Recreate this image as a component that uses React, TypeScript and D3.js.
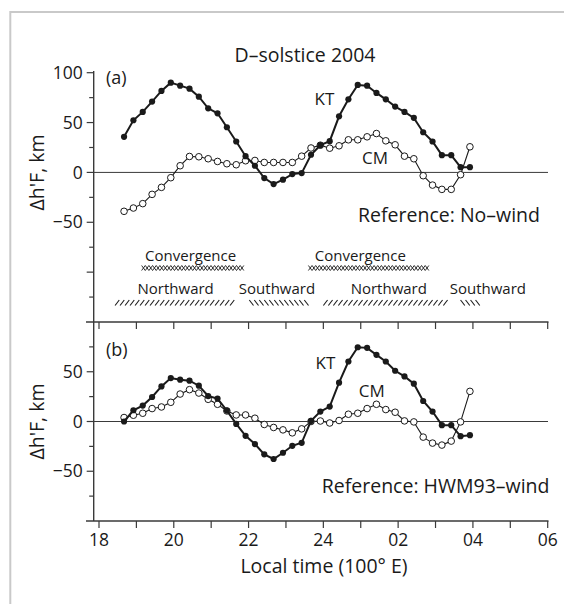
import React from "react";
import * as d3 from "d3";

// ---------- data ----------
const times = [
  18.67, 18.92, 19.17, 19.42, 19.67, 19.92, 20.17, 20.42, 20.67, 20.92,
  21.17, 21.42, 21.67, 21.92, 22.17, 22.42, 22.67, 22.92, 23.17, 23.42,
  23.67, 23.92, 24.17, 24.42, 24.67, 24.92, 25.17, 25.42, 25.67, 25.92,
  26.17, 26.42, 26.67, 26.92, 27.17, 27.42, 27.67, 27.92,
];

const ktNoWind = [
  35.7, 52.3, 60.7, 71, 81.7, 90, 87, 84, 76, 64.3,
  59.3, 45.3, 31, 16.3, 6.7, -5.7, -11.7, -7.3, -1.7, -0.7,
  17.7, 27.3, 31.3, 56.3, 73.3, 87.7, 87, 79.7, 73.3, 66,
  60.7, 54.7, 40.3, 31, 17.3, 17.3, 5.3, 5.3,
];
const cmNoWind = [
  -39, -35.7, -31.3, -22, -15, -5.3, 6.7, 16, 15.7, 13.7,
  11, 8.7, 7.7, 11.7, 12, 10, 10, 10, 10, 16.3,
  24.5, 27.3, 24.3, 26.7, 32.7, 32.7, 35.7, 39, 31.7, 27.7,
  16.3, 13.7, -3.3, -12.7, -17, -17, -2.3, 25.7,
];
const ktHwm = [
  0, 11.3, 16, 24.6, 35.3, 43.6, 42, 41, 36, 25.6,
  23, 11, -2.4, -14.4, -22.7, -33, -37.7, -31.4, -24.4, -21.4,
  0.6, 10, 15, 39, 60.3, 74.6, 74, 67, 60.3, 51,
  45.3, 38, 20.6, 10, -3.7, -3.7, -14.7, -13.7,
];
const cmHwm = [
  4, 6.3, 8.3, 13, 14.6, 19.3, 27.6, 32, 28.6, 22.3,
  17.3, 10.6, 6.6, 6.6, 3.3, -3, -6, -8.4, -11.4, -7.4,
  0, 0.5, -1.5, 1, 7.3, 8.3, 13, 17.3, 12, 9.3,
  0.6, -0.4, -15.7, -21.7, -23.7, -19.7, -0.4, 30.3,
];

const xTickValues = [18, 20, 22, 24, 26, 28, 30];
const xTickLabels = ["18", "20", "22", "24", "02", "04", "06"];
const xMinorTicks = [19, 21, 23, 25, 27, 29];

const yTicksA = [100, 50, 0, -50];
const yTicksB = [50, 0, -50];

const convergenceBands = [[19.14, 21.88], [23.6, 26.87]];
const northwardBands = [[18.43, 21.64], [24.0, 27.34]];
const southwardBands = [[22.02, 23.65], [27.67, 28.19]];
const convergenceLabelAt = [20.45, 24.99];
const northwardLabelAt = [20.05, 25.75];
const southwardLabelAt = [22.76, 28.4];

// ---------- layout ----------
const W = 564;
const H = 604;
const FONT = "'Open Sans', 'Noto Sans', sans-serif";
const AX = "#3a3a3a";
const INK = "#1a1a1a";
const BIG = 19.5;

const x = d3.scaleLinear().domain([18, 30]).range([99, 547.7]);
const yA = d3.scaleLinear().domain([-150, 100]).range([322, 72.7]);
const yB = d3.scaleLinear().domain([-100, 100]).range([521, 322]);
const axisX = 93.7;

function Series({ vals, y, filled }: { vals: number[]; y: any; filled: boolean }) {
  const line = d3
    .line<number>()
    .x((_, i) => x(times[i]))
    .y((v) => y(v));
  return (
    <g>
      <path d={line(vals) || ""} fill="none" stroke={INK} strokeWidth={filled ? 2 : 1.1} />
      {vals.map((v, i) =>
        filled ? (
          <circle key={i} cx={x(times[i])} cy={y(v)} r={3.1} fill={INK} />
        ) : (
          <circle key={i} cx={x(times[i])} cy={y(v)} r={3.3} fill="#fff" stroke={INK} strokeWidth={1} />
        )
      )}
    </g>
  );
}

function YAxis({ y, lo, hi, labels }: { y: any; lo: number; hi: number; labels: number[] }) {
  const ticks = d3.range(lo, hi + 0.1, 25);
  return (
    <g>
      {ticks.map((t) => {
        const major = t % 50 === 0;
        return (
          <line key={t} x1={axisX - (major ? 7 : 4.5)} x2={axisX} y1={y(t)} y2={y(t)} stroke={AX} strokeWidth={1.2} />
        );
      })}
      {labels.map((t) => (
        <text key={t} x={axisX - 11} y={y(t)} dy="0.35em" textAnchor="end" fontSize={17.5} fill={INK}>
          {t < 0 ? "\u2212" + Math.abs(t) : String(t)}
        </text>
      ))}
    </g>
  );
}

function Hatch({ band, dir, y0, y1 }: { band: number[]; dir: number; y0: number; y1: number }) {
  const p0 = x(band[0]);
  const p1 = x(band[1]);
  const starts = d3.range(p0, p1 - 3.5, 5);
  return (
    <g stroke={INK} strokeWidth={1.1}>
      {starts.map((p, i) =>
        dir > 0 ? (
          <line key={i} x1={p} y1={y1} x2={p + 4.2} y2={y0} />
        ) : (
          <line key={i} x1={p} y1={y0} x2={p + 4.2} y2={y1} />
        )
      )}
    </g>
  );
}

function Cross({ band, y0, y1 }: { band: number[]; y0: number; y1: number }) {
  const p0 = x(band[0]);
  const p1 = x(band[1]);
  const half = 3.65;
  const n = Math.floor((p1 - p0) / half);
  const a: [number, number][] = [];
  const b: [number, number][] = [];
  for (let k = 0; k <= n; k++) {
    const px = p0 + k * half;
    a.push([px, k % 2 === 0 ? y0 : y1]);
    b.push([px, k % 2 === 0 ? y1 : y0]);
  }
  const ln = d3.line();
  return (
    <g fill="none" stroke={INK} strokeWidth={0.9}>
      <path d={ln(a) || ""} />
      <path d={ln(b) || ""} />
    </g>
  );
}

export default function App() {
  return (
    <svg
      width={W}
      height={H}
      style={{ position: "absolute", left: 0, top: 0, background: "#fff" }}
      fontFamily={FONT}
    >
      <rect x={0} y={0} width={W} height={H} fill="#fff" />
      <rect x={10.3} y={12} width={700} height={800} fill="none" stroke="#c9c9c9" strokeWidth={2} />

      {/* title */}
      <text x={305} y={62} textAnchor="middle" fontSize={BIG} fill={INK}>
        D–solstice 2004
      </text>

      {/* axes frame */}
      <line x1={axisX} x2={axisX} y1={71} y2={521} stroke={AX} strokeWidth={1.4} />
      <line x1={86} x2={548.5} y1={322} y2={322} stroke={AX} strokeWidth={1.4} />
      <line x1={86} x2={548.5} y1={521} y2={521} stroke={AX} strokeWidth={1.4} />

      {/* x ticks */}
      {[...xTickValues, ...xMinorTicks].map((t) => (
        <g key={t}>
          <line x1={x(t)} x2={x(t)} y1={521} y2={528} stroke={AX} strokeWidth={1.2} />
          <line x1={x(t)} x2={x(t)} y1={322} y2={329} stroke={AX} strokeWidth={1.2} />
        </g>
      ))}
      {xTickValues.map((t, i) => (
        <text key={t} x={x(t)} y={546} textAnchor="middle" fontSize={17.5} fill={INK}>
          {xTickLabels[i]}
        </text>
      ))}
      <text x={324} y={573} textAnchor="middle" fontSize={BIG} fill={INK}>
        Local time (100° E)
      </text>

      {/* y axes */}
      <YAxis y={yA} lo={-125} hi={100} labels={yTicksA} />
      <YAxis y={yB} lo={-75} hi={75} labels={yTicksB} />
      <text transform={`translate(44,${yA(0)}) rotate(-90)`} textAnchor="middle" fontSize={BIG} fill={INK}>
        Δh'F, km
      </text>
      <text transform={`translate(44,${yB(0)}) rotate(-90)`} textAnchor="middle" fontSize={BIG} fill={INK}>
        Δh'F, km
      </text>

      {/* zero lines */}
      <line x1={axisX} x2={548} y1={yA(0)} y2={yA(0)} stroke={AX} strokeWidth={1} />
      <line x1={axisX} x2={548} y1={yB(0)} y2={yB(0)} stroke={AX} strokeWidth={1} />

      {/* panel a */}
      <Series vals={cmNoWind} y={yA} filled={false} />
      <Series vals={ktNoWind} y={yA} filled={true} />
      <text x={106} y={84} fontSize={18} fill={INK}>(a)</text>
      <text x={324.5} y={105} textAnchor="middle" fontSize={17} fill={INK}>KT</text>
      <text x={375} y={164} textAnchor="middle" fontSize={17} fill={INK}>CM</text>
      <text x={540} y={222} textAnchor="end" fontSize={BIG} fill={INK}>Reference: No–wind</text>

      {/* wind bands */}
      {convergenceBands.map((b, i) => (
        <Cross key={i} band={b} y0={265.5} y1={270.5} />
      ))}
      {northwardBands.map((b, i) => (
        <Hatch key={i} band={b} dir={1} y0={300} y1={305.5} />
      ))}
      {southwardBands.map((b, i) => (
        <Hatch key={i} band={b} dir={-1} y0={300} y1={305.5} />
      ))}
      {convergenceLabelAt.map((t, i) => (
        <text key={i} x={x(t)} y={260.5} textAnchor="middle" fontSize={15} fill={INK}>Convergence</text>
      ))}
      {northwardLabelAt.map((t, i) => (
        <text key={i} x={x(t)} y={294} textAnchor="middle" fontSize={15} fill={INK}>Northward</text>
      ))}
      {southwardLabelAt.map((t, i) => (
        <text key={i} x={x(t)} y={294} textAnchor="middle" fontSize={15} fill={INK}>Southward</text>
      ))}

      {/* panel b */}
      <Series vals={cmHwm} y={yB} filled={false} />
      <Series vals={ktHwm} y={yB} filled={true} />
      <text x={106} y={356} fontSize={18} fill={INK}>(b)</text>
      <text x={325.5} y={369} textAnchor="middle" fontSize={17} fill={INK}>KT</text>
      <text x={371.7} y={396.7} textAnchor="middle" fontSize={17} fill={INK}>CM</text>
      <text x={549.5} y={493} textAnchor="end" fontSize={BIG} fill={INK}>Reference: HWM93–wind</text>
    </svg>
  );
}
